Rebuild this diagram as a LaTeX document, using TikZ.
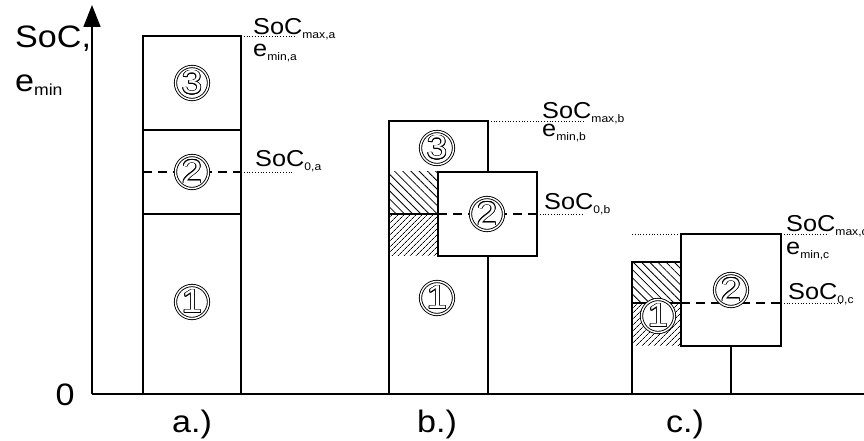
\documentclass[tikz,border=0pt]{standalone}
\usepackage{fontspec}
\setmainfont{Liberation Sans}[FakeStretch=1.1]
\usepackage{contour}
\usetikzlibrary{arrows.meta,patterns.meta}
\contourlength{0.8pt}
\newcommand{\subtxt}[2][11]{\raisebox{-4pt}{\fontsize{#1}{#1}\selectfont #2}}

\tikzset{
  bar/.style={line width=1.5pt},
  livello/.style={line width=1.6pt, dash pattern=on 9pt off 6pt},
  guida/.style={line width=0.8pt, dash pattern=on 0.8pt off 2pt},
  numero/.style={circle, draw, double, fill=white, line width=0.9pt,
    double distance=1.4pt, minimum size=33pt, inner sep=0pt, text=white,
    font=\fontsize{33}{33}\selectfont},
  etichetta/.style={inner sep=0pt, anchor=base west, font=\fontsize{23}{23}\selectfont},
  grande/.style={inner sep=0pt, font=\fontsize{31}{31}\selectfont},
  sopra/.style={pattern={Lines[angle=-45,distance=5.8pt,line width=0.8pt]}},
  sotto/.style={pattern={Lines[angle=45,distance=4pt,line width=0.8pt]}}
}

\begin{document}
\begin{tikzpicture}[x=1pt,y=1pt]
  \useasboundingbox (-92,-47) rectangle (772,394);

  % Assi
  \draw[bar, -{Triangle[width=17pt,length=22pt]}] (0,0) -- (0,389);
  \draw[bar] (0,0) -- (772,0);
  \node[grande, anchor=base west] (asse1) at (-77,346) {SoC,};
  \node[grande, anchor=base west] (asse2) at (-77,302) {e\subtxt[16]{min}};
  \node[grande] (zero) at (-27,-1) {0};

  % Colonna a
  \draw[bar] (51,0) rectangle (149,358);
  \draw[bar] (51,264) -- (149,264);
  \draw[bar] (51,180) -- (149,180);
  \draw[livello] (51,222) -- (149,222);
  \draw[guida] (149,358) -- (203,358);
  \draw[guida] (149,222) -- (201,222);
  \node[numero] (a3) at (100,311) {\contour{black}{3}};
  \node[numero] (a2) at (100,222) {\contour{black}{2}};
  \node[numero] (a1) at (100,92) {\contour{black}{1}};
  \node[etichetta] (maxa) at (161,359) {SoC\subtxt{max,a}};
  \node[etichetta] (emina) at (161,337) {e\subtxt{min,a}};
  \node[etichetta] (soc0a) at (163,227) {SoC\subtxt{0,a}};
  \node[grande, anchor=base] (casoa) at (100,-39) {a.)};

  % Colonna b
  \path[sopra] (297,180) rectangle (346,222);
  \path[sotto] (297,138) rectangle (346,180);
  \draw[bar] (297,0) -- (297,273) -- (396,273) -- (396,222);
  \draw[bar] (396,138) -- (396,0);
  \draw[bar] (346,138) rectangle (445,222);
  \draw[bar] (297,180) -- (346,180);
  \draw[livello] (346,180) -- (445,180);
  \draw[guida] (396,273) -- (493,273);
  \draw[guida] (445,180) -- (491,180);
  \node[numero] (b3) at (345,246) {\contour{black}{3}};
  \node[numero] (b2) at (395,180) {\contour{black}{2}};
  \node[numero] (b1) at (345,96) {\contour{black}{1}};
  \node[etichetta] (maxb) at (450,275) {SoC\subtxt{max,b}};
  \node[etichetta] (eminb) at (450,257) {e\subtxt{min,b}};
  \node[etichetta] (soc0b) at (452,184) {SoC\subtxt{0,b}};
  \node[grande, anchor=base] (casob) at (345,-39) {b.)};

  % Colonna c
  \path[sopra] (540,91) rectangle (589,132);
  \path[sotto] (540,48) rectangle (589,91);
  \draw[bar] (540,0) -- (540,132) -- (589,132);
  \draw[bar] (589,48) rectangle (689,160);
  \draw[bar] (639,0) -- (639,48);
  \draw[bar] (540,91) -- (589,91);
  \draw[livello] (589,91) -- (689,91);
  \draw[guida] (540,160) -- (589,160);
  \draw[guida] (689,160) -- (736,160);
  \draw[guida] (689,91) -- (748,91);
  \node[numero] (c2) at (639,104) {\contour{black}{2}};
  \node[numero] (c1) at (566,78) {\contour{black}{1}};
  \node[etichetta] (maxc) at (694,162) {SoC\subtxt{max,c}};
  \node[etichetta] (eminc) at (694,139) {e\subtxt{min,c}};
  \node[etichetta] (soc0c) at (696,94) {SoC\subtxt{0,c}};
  \node[grande, anchor=base] (casoc) at (593,-39) {c.)};
\end{tikzpicture}
\end{document}
